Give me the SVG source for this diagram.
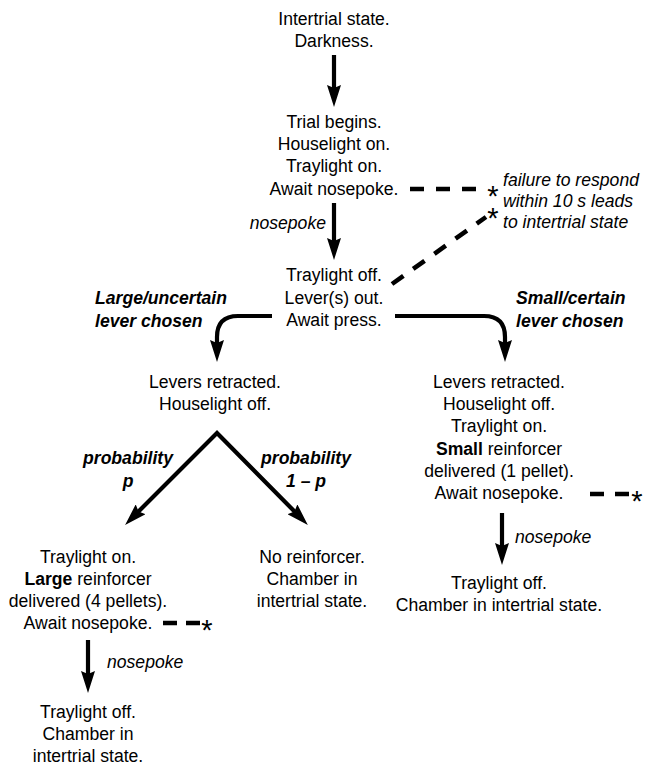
<svg xmlns="http://www.w3.org/2000/svg" width="648" height="769" viewBox="0 0 648 769">
<style>
text{font-family:"Liberation Sans",Arial,sans-serif;font-size:17.6px;fill:#000}
.c{text-anchor:middle}
.i{font-style:italic}
.bi{font-style:italic;font-weight:bold}
.b{font-weight:bold}
.star{font-size:29px;text-anchor:middle}
.arr{fill:none;stroke:#000;stroke-width:4.2;marker-end:url(#ah)}
.dash{fill:none;stroke:#000;stroke-width:4.6}
</style>
<defs>
<marker id="ah" viewBox="0 0 22 14" refX="8" refY="7" markerWidth="22" markerHeight="14" markerUnits="userSpaceOnUse" orient="auto-start-reverse">
<path d="M0,0 L22,7 L0,14 L3,7 Z" fill="#000"/>
</marker>
</defs>
<g id="connectors">
<line class="arr" x1="334" y1="55" x2="334" y2="93"/>
<line class="arr" x1="334" y1="203" x2="334" y2="246"/>
<path class="arr" d="M272,316 H238 Q217,316 217,337 V348"/>
<path class="arr" d="M395,316 H484 Q505,316 505,337 V348"/>
<path class="arr" d="M135,515 L217,433 L298,515" style="marker-start:url(#ah);stroke-linejoin:miter"/>
<line class="arr" x1="502" y1="513" x2="502" y2="551"/>
<line class="arr" x1="88" y1="640" x2="88" y2="679"/>
<line class="dash" x1="410" y1="189" x2="476" y2="189" stroke-dasharray="14 12"/>
<line class="dash" x1="392" y1="284" x2="486" y2="217" stroke-dasharray="14 12"/>
<line class="dash" x1="590" y1="494" x2="629" y2="494" stroke-dasharray="14 11"/>
<line class="dash" x1="163" y1="623" x2="200" y2="623" stroke-dasharray="14 9"/>
<text class="star"><tspan x="493" y="206">*</tspan><tspan x="493" y="228">*</tspan></text>
<text class="star" x="637" y="511">*</text>
<text class="star" x="207" y="640">*</text>
<text class="i" x="326" y="229" text-anchor="end">nosepoke</text>
<text class="i" x="515" y="543">nosepoke</text>
<text class="i" x="107" y="668">nosepoke</text>
<text class="bi" x="95" y="304">Large/uncertain</text>
<text class="bi" x="95" y="327">lever chosen</text>
<text class="bi" x="516" y="304">Small/certain</text>
<text class="bi" x="516" y="327">lever chosen</text>
<text class="bi c" x="128" y="464">probability</text>
<text class="bi c" x="128" y="487">p</text>
<text class="bi c" x="306" y="464">probability</text>
<text class="bi c" x="306" y="487">1 – p</text>
</g>
<g id="note">
<text class="i" x="503" y="186">failure to respond</text>
<text class="i" x="503" y="207">within 10 s leads</text>
<text class="i" x="503" y="228">to intertrial state</text>
</g>
<g id="n1">
<text class="c" x="334" y="25">Intertrial state.</text>
<text class="c" x="334" y="47">Darkness.</text>
</g>
<g id="n2">
<text class="c" x="334" y="128">Trial begins.</text>
<text class="c" x="334" y="150">Houselight on.</text>
<text class="c" x="334" y="172">Traylight on.</text>
<text class="c" x="334" y="195">Await nosepoke.</text>
</g>
<g id="n3">
<text class="c" x="334" y="281">Traylight off.</text>
<text class="c" x="334" y="304">Lever(s) out.</text>
<text class="c" x="334" y="326">Await press.</text>
</g>
<g id="n4">
<text class="c" x="215" y="388">Levers retracted.</text>
<text class="c" x="215" y="410">Houselight off.</text>
</g>
<g id="n5">
<text class="c" x="499" y="388">Levers retracted.</text>
<text class="c" x="499" y="410">Houselight off.</text>
<text class="c" x="499" y="432">Traylight on.</text>
<text class="c" x="499" y="455"><tspan class="b">Small</tspan> reinforcer</text>
<text class="c" x="499" y="477">delivered (1 pellet).</text>
<text class="c" x="499" y="499">Await nosepoke.</text>
</g>
<g id="n6">
<text class="c" x="88" y="563">Traylight on.</text>
<text class="c" x="88" y="585"><tspan class="b">Large</tspan> reinforcer</text>
<text class="c" x="88" y="607">delivered (4 pellets).</text>
<text class="c" x="88" y="629">Await nosepoke.</text>
</g>
<g id="n7">
<text class="c" x="312" y="563">No reinforcer.</text>
<text class="c" x="312" y="585">Chamber in</text>
<text class="c" x="312" y="607">intertrial state.</text>
</g>
<g id="n8">
<text class="c" x="499" y="589">Traylight off.</text>
<text class="c" x="499" y="611">Chamber in intertrial state.</text>
</g>
<g id="n9">
<text class="c" x="88" y="718">Traylight off.</text>
<text class="c" x="88" y="740">Chamber in</text>
<text class="c" x="88" y="762">intertrial state.</text>
</g>
</svg>
